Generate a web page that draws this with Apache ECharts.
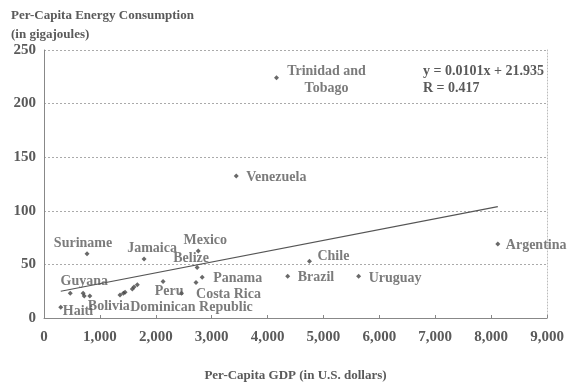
<!DOCTYPE html>
<html>
<head>
<meta charset="utf-8">
<script src="https://cdn.jsdelivr.net/npm/echarts@6/dist/echarts.min.js"></script>
<style>html,body{margin:0;padding:0;background:#fff}#c{width:575px;height:387px}</style>
</head>
<body>
<div id="c"></div>
<script>
// ---- data ----
const countries = ['Trinidad and Tobago','Venezuela','Argentina','Chile','Brazil','Uruguay','Suriname','Jamaica','Mexico','Belize','Panama','Costa Rica','Peru','Dominican Republic','Guyana','Bolivia','Haiti','','','','','','','',''];
const gdpPerCapita = [4160,3440,8120,4750,4360,5630,770,1790,2760,2740,2830,2720,2130,2460,470,820,300,700,720,1360,1420,1450,1580,1610,1670];
const energyPerCapita = [224,132.5,69,53,39,39,60,55,62.5,47,38,33,34,23,23,20.5,10,23,20.5,21.5,23,24,27,29,31];
const xTicks = [0,1000,2000,3000,4000,5000,6000,7000,8000,9000];
const yTicks = [0,50,100,150,200,250];
const trendSlope = 0.0101;
const trendIntercept = 21.935;
const equationText = 'y = 0.0101x + 21.935';
const rText = 'R = 0.417';

// ---- label placement (styles, not data) ----
const labelPlace = {
  'Trinidad and Tobago': {text:'Trinidad and\nTobago', dx:50, dy:2, align:'center'},
  'Venezuela': {dx:10, dy:1, align:'left'},
  'Argentina': {dx:8, dy:1, align:'left'},
  'Chile': {dx:8, dy:-5, align:'left'},
  'Brazil': {dx:10, dy:1, align:'left'},
  'Uruguay': {dx:10, dy:2, align:'left'},
  'Suriname': {dx:-4, dy:-10, align:'center'},
  'Jamaica': {dx:8, dy:-11, align:'center'},
  'Mexico': {dx:7, dy:-11, align:'center'},
  'Belize': {dx:-6, dy:-9, align:'center'},
  'Panama': {dx:11, dy:1, align:'left'},
  'Costa Rica': {dx:0, dy:12, align:'left'},
  'Peru': {dx:6, dy:10, align:'center'},
  'Dominican Republic': {dx:10, dy:14, align:'center'},
  'Guyana': {dx:14, dy:-12, align:'center'},
  'Bolivia': {dx:19, dy:10, align:'center'},
  'Haiti': {dx:2, dy:4, align:'left'}
};

const FONT = '"Liberation Serif","DejaVu Serif",serif';
const TXT = '#5a5a5a';

const points = countries.map((n, i) => {
  const item = {name: n, value: [gdpPerCapita[i], energyPerCapita[i]]};
  const p = labelPlace[n];
  if (p) {
    item.label = {
      show: true, position: 'inside', offset: [p.dx, p.dy], align: p.align,
      verticalAlign: 'middle', formatter: p.text || n,
      color: TXT, fontFamily: FONT, fontSize: 14, fontWeight: 'bold', lineHeight: 17
    };
  }
  return item;
});

const minX = Math.min(...gdpPerCapita), maxX = Math.max(...gdpPerCapita);
const trend = [[minX, trendSlope*minX + trendIntercept], [maxX, trendSlope*maxX + trendIntercept]];

const chart = echarts.init(document.getElementById('c'), null, {renderer:'canvas'});
chart.setOption({
  backgroundColor: '#fff',
  animation: false,
  title: {
    text: 'Per-Capita Energy Consumption\n(in gigajoules)',
    left: 6, top: 1,
    textStyle: {fontFamily: FONT, fontSize: 13, fontWeight: 'bold', color: TXT, lineHeight: 19}
  },
  grid: {left: 44, right: 28, top: 50, bottom: 69},
  xAxis: {
    type: 'value', min: xTicks[0], max: xTicks[xTicks.length-1], interval: 1000,
    axisLine: {show: true, lineStyle: {color: '#888', width: 1}},
    axisTick: {show: true, inside: true, length: 3, lineStyle: {color: '#888'}},
    splitLine: {show: false},
    axisLabel: {fontFamily: FONT, fontSize: 15, fontWeight: 'bold', color: TXT, margin: 12,
      formatter: v => v.toLocaleString('en-US')},
    name: 'Per-Capita GDP (in U.S. dollars)', nameLocation: 'middle', nameGap: 51,
    nameTextStyle: {fontFamily: FONT, fontSize: 13, fontWeight: 'bold', color: TXT}
  },
  yAxis: [{
    type: 'value', min: yTicks[0], max: yTicks[yTicks.length-1], interval: 50,
    axisLine: {show: true, lineStyle: {color: '#888', width: 1}},
    axisTick: {show: false},
    splitLine: {show: true, lineStyle: {color: '#aaa', type: [2,2], width: 1}},
    axisLabel: {fontFamily: FONT, fontSize: 15, fontWeight: 'bold', color: TXT, margin: 8}
  }, {
    type: 'value', position: 'right', min: 0, max: 250, interval: 50,
    axisLine: {show: true, lineStyle: {color: '#bbb', type: [1,2], width: 1}},
    axisTick: {show: false}, axisLabel: {show: false}, splitLine: {show: false}
  }],
  series: [{
    type: 'scatter',
    data: points,
    symbol: 'diamond', symbolSize: 5,
    itemStyle: {color: '#444'},
    z: 3
  }, {
    type: 'line',
    data: trend,
    symbol: 'none',
    lineStyle: {color: '#555', width: 1.2},
    z: 2
  }],
  graphic: [{
    type: 'text', left: 423, top: 63,
    style: {text: equationText + '\n' + rText, fontFamily: FONT, fontSize: 14, fontWeight: 'bold', fill: TXT, lineHeight: 17}
  }]
});
</script>
</body>
</html>
